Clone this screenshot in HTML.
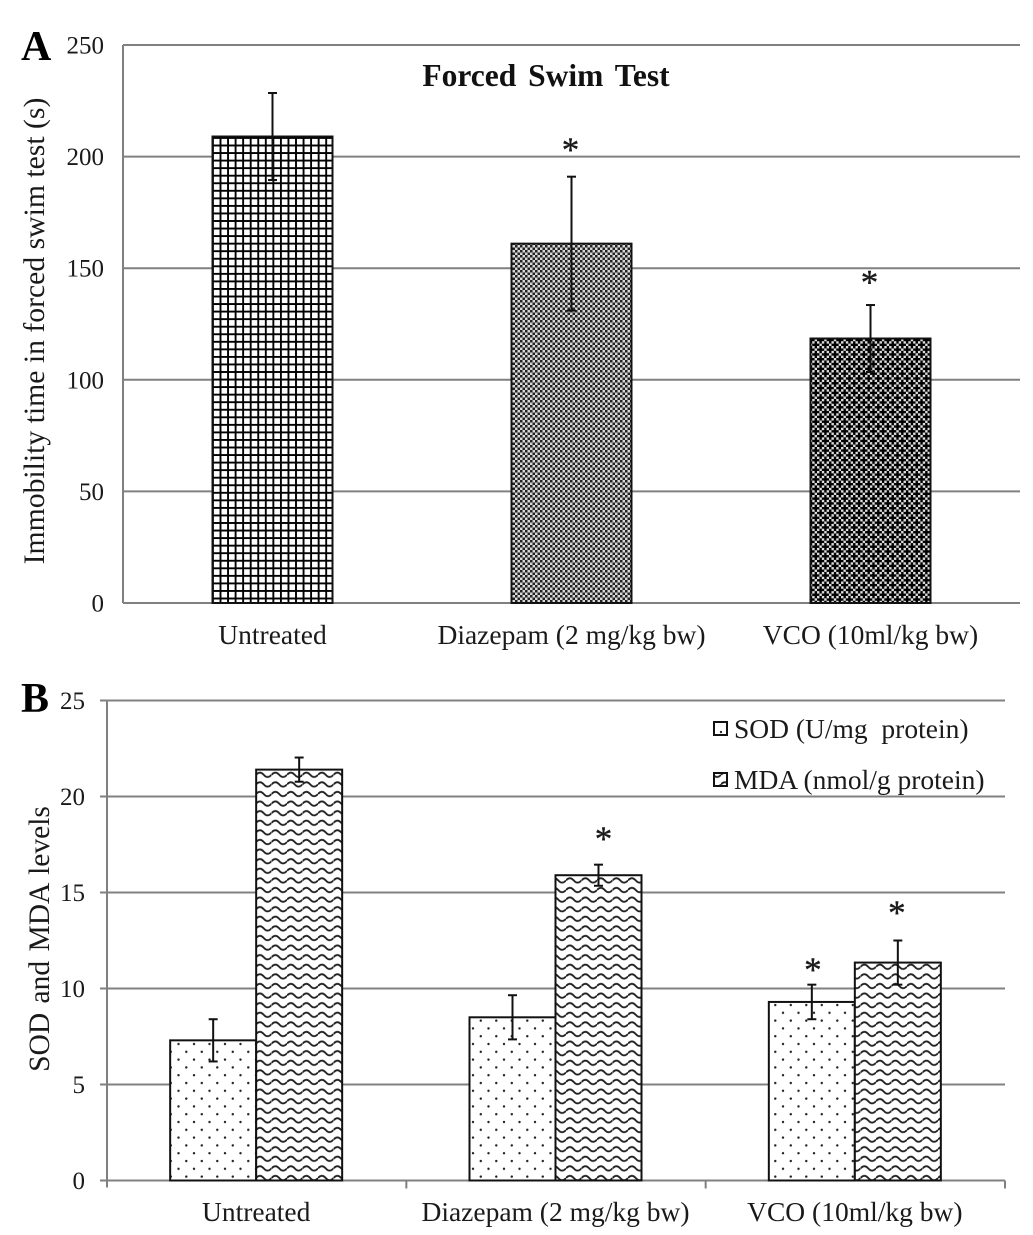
<!DOCTYPE html>
<html>
<head>
<meta charset="utf-8">
<title>Forced Swim Test and SOD/MDA levels</title>
<style>
html,body{margin:0;padding:0;background:#fff;}
svg{display:block;font-family:"Liberation Serif","Times New Roman",serif;}
text{fill:#1a1a1a;}
</style>
</head>
<body>
<svg id="figure" width="1033" height="1235" viewBox="0 0 1033 1235" xmlns="http://www.w3.org/2000/svg">
<defs>
<pattern id="p-grid" patternUnits="userSpaceOnUse" width="7.55" height="7.55" x="212" y="137">
<rect width="7.55" height="7.55" fill="#fff"/>
<rect x="0" y="0" width="1.9" height="7.55" fill="#000"/>
<rect x="0" y="0" width="7.55" height="1.9" fill="#000"/>
</pattern>
<pattern id="p-check" patternUnits="userSpaceOnUse" width="5" height="5">
<rect width="5" height="5" fill="#d8d8d8"/>
<rect width="2.5" height="2.5" fill="#222"/>
<rect x="2.5" y="2.5" width="2.5" height="2.5" fill="#222"/>
</pattern>
<pattern id="p-lattice" patternUnits="userSpaceOnUse" width="10.8" height="10.8" patternTransform="scale(0.89)">
<rect width="10.8" height="10.8" fill="#8a8a8a"/>
<rect x="0" y="0" width="2.7" height="2.7" fill="#ddd"/>
<rect x="5.4" y="0" width="2.7" height="2.7" fill="#ddd"/>
<rect x="2.7" y="2.7" width="2.7" height="2.7" fill="#ddd"/>
<rect x="8.1" y="2.7" width="2.7" height="2.7" fill="#ddd"/>
<rect x="0" y="5.4" width="2.7" height="2.7" fill="#ddd"/>
<rect x="5.4" y="5.4" width="2.7" height="2.7" fill="#ddd"/>
<rect x="2.7" y="8.1" width="2.7" height="2.7" fill="#ddd"/>
<rect x="8.1" y="8.1" width="2.7" height="2.7" fill="#ddd"/>
<rect x="2.7" y="0" width="2.7" height="8.1" fill="#000"/>
<rect x="0" y="2.7" width="8.1" height="2.7" fill="#000"/>
<rect x="8.1" y="5.4" width="2.7" height="5.4" fill="#000"/>
<rect x="8.1" y="0" width="2.7" height="2.7" fill="#000"/>
<rect x="5.4" y="8.1" width="5.4" height="2.7" fill="#000"/>
<rect x="0" y="8.1" width="2.7" height="2.7" fill="#000"/>
</pattern>
<pattern id="p-dots" patternUnits="userSpaceOnUse" width="15.5" height="15.6" x="170" y="1040">
<rect width="15.5" height="15.6" fill="#fff"/>
<circle cx="8.5" cy="4" r="1.2" fill="#222"/>
<circle cx="0.8" cy="11.8" r="1.2" fill="#222"/>
<circle cx="16.3" cy="11.8" r="1.2" fill="#222"/>
</pattern>
<pattern id="p-wave" patternUnits="userSpaceOnUse" width="15.5" height="9.6" x="256" y="770">
<rect width="15.5" height="9.6" fill="#fff"/>
<path d="M0 4.8 Q 3.875 0.4 7.75 4.8 T 15.5 4.8" fill="none" stroke="#222" stroke-width="1.9"/>
</pattern>
</defs>
</svg>
<script>
const categoriesA = ["Untreated", "Diazepam (2 mg/kg bw)", "VCO (10ml/kg bw)"];
const immobilityValues = [209, 161, 118.5];
const immobilityErrors = [19.5, 30, 15];
const immobilitySig = [false, true, true];
const ticksA = [0, 50, 100, 150, 200, 250];

const categoriesB = ["Untreated", "Diazepam (2 mg/kg bw)", "VCO (10ml/kg bw)"];
const sodValues = [7.3, 8.5, 9.3];
const sodErrors = [1.1, 1.15, 0.9];
const sodSig = [false, false, true];
const mdaValues = [21.4, 15.9, 11.35];
const mdaErrors = [0.63, 0.55, 1.15];
const mdaSig = [false, true, true];
const ticksB = [0, 5, 10, 15, 20, 25];

const NS = "http://www.w3.org/2000/svg";
const svg = document.getElementById("figure");

function mk(tag, attrs, txt) {
  const el = document.createElementNS(NS, tag);
  for (const k in attrs) el.setAttribute(k, attrs[k]);
  if (txt !== undefined) el.textContent = txt;
  svg.appendChild(el);
  return el;
}

/* axis functions, panel A */
const A = {left: 123, right: 1020, base: 603, top: 45, max: 250};
function yA(v) { return A.base - (v / A.max) * (A.base - A.top); }
function xA(i) { return A.left + (i + 0.5) * (A.right - A.left) / categoriesA.length; }

/* axis functions, panel B */
const B = {left: 107, right: 1005, base: 1180.5, top: 700.5, max: 25};
function yB(v) { return B.base - (v / B.max) * (B.base - B.top); }
function xB(i) { return B.left + (i + 0.5) * (B.right - B.left) / categoriesB.length; }

const GRID = "#808080";
const TICK_FONT = 25;
const LABEL_FONT = 27.5;

function errorBar(cx, yTop, yBottom) {
  const stem = mk("line", {x1: cx, x2: cx, y1: yTop, y2: yBottom, stroke: "#111", "stroke-width": 2});
  
  
  const capTop = mk("line", {x1: cx - 4.5, x2: cx + 4.5, y1: yTop, y2: yTop, stroke: "#111", "stroke-width": 2});
  
  
  const capBottom = mk("line", {x1: cx - 4.5, x2: cx + 4.5, y1: yBottom, y2: yBottom, stroke: "#111", "stroke-width": 2});
  
  
}

function star(cx, yTop, lift) {
  const s = mk("text", {x: cx, y: yTop - lift + 14, "text-anchor": "middle", "font-size": 35, stroke: "#1a1a1a", "stroke-width": 0.4}, "*");
  
  
}

/* ---------- Panel A ---------- */
const labelA = mk("text", {x: 21, y: 60, "font-size": 42, "font-weight": "bold", style: "fill:#000"}, "A");



ticksA.forEach(function (t) {
  const line = mk("line", {x1: A.left, x2: A.right, y1: yA(t), y2: yA(t), stroke: GRID, "stroke-width": 2});
  
  
  const lab = mk("text", {x: 104, y: yA(t) + 8.5, "text-anchor": "end", "font-size": TICK_FONT}, String(t));
  
  
});
const axisA = mk("line", {x1: A.left, x2: A.left, y1: A.top, y2: A.base, stroke: GRID, "stroke-width": 2});



const patternsA = ["p-grid", "p-check", "p-lattice"];
const liftsA = [0, 29, 25];
categoriesA.forEach(function (c, i) {
  const w = 120;
  const bar = mk("rect", {x: xA(i) - w / 2, y: yA(immobilityValues[i]), width: w, height: A.base - yA(immobilityValues[i]), fill: "url(#" + patternsA[i] + ")", stroke: "#111", "stroke-width": 2});
  
  
  errorBar(xA(i), yA(immobilityValues[i] + immobilityErrors[i]), yA(immobilityValues[i] - immobilityErrors[i]));
  if (immobilitySig[i]) star(xA(i) - 1, yA(immobilityValues[i] + immobilityErrors[i]), liftsA[i]);
  const lab = mk("text", {x: xA(i), y: 644, "text-anchor": "middle", "font-size": LABEL_FONT}, c);
  
  
});

const titleA = mk("text", {x: 546, y: 86, "text-anchor": "middle", "font-size": 31.5, "font-weight": "bold", style: "fill:#111;word-spacing:4px"}, "Forced Swim Test");



const yTitleA = mk("text", {x: 0, y: 0, transform: "translate(44,331) rotate(-90)", "text-anchor": "middle", "font-size": 29.7}, "Immobility time in forced swim test (s)");



/* ---------- Panel B ---------- */
const labelB = mk("text", {x: 21, y: 712, "font-size": 42, "font-weight": "bold", style: "fill:#000"}, "B");



ticksB.forEach(function (t) {
  const line = mk("line", {x1: B.left - 7, x2: B.right, y1: yB(t), y2: yB(t), stroke: GRID, "stroke-width": 2});
  
  
  const lab = mk("text", {x: 85, y: yB(t) + 8.5, "text-anchor": "end", "font-size": TICK_FONT}, String(t));
  
  
});
const axisB = mk("line", {x1: B.left, x2: B.left, y1: B.top, y2: B.base + 7, stroke: GRID, "stroke-width": 2});



const liftsSod = [0, 0, 17];
const liftsMda = [0, 28, 30];
const nudgeMda = [0, 5, -1];
categoriesB.forEach(function (c, i) {
  const tick = mk("line", {x1: xB(i) + (B.right - B.left) / 6, x2: xB(i) + (B.right - B.left) / 6, y1: B.base, y2: B.base + 8, stroke: GRID, "stroke-width": 2});
  
  

  const w = 86;
  const cx = xB(i) - 0.5;
  const sod = mk("rect", {x: cx - w, y: yB(sodValues[i]), width: w, height: B.base - yB(sodValues[i]), fill: "url(#p-dots)", stroke: "#111", "stroke-width": 2});
  
  
  const mda = mk("rect", {x: cx, y: yB(mdaValues[i]), width: w, height: B.base - yB(mdaValues[i]), fill: "url(#p-wave)", stroke: "#111", "stroke-width": 2});
  
  

  errorBar(cx - w / 2, yB(sodValues[i] + sodErrors[i]), yB(sodValues[i] - sodErrors[i]));
  errorBar(cx + w / 2, yB(mdaValues[i] + mdaErrors[i]), yB(mdaValues[i] - mdaErrors[i]));
  if (sodSig[i]) star(cx - w / 2 + 1, yB(sodValues[i] + sodErrors[i]), liftsSod[i]);
  if (mdaSig[i]) star(cx + w / 2 + nudgeMda[i], yB(mdaValues[i] + mdaErrors[i]), liftsMda[i]);

  const lab = mk("text", {x: cx, y: 1221, "text-anchor": "middle", "font-size": LABEL_FONT}, c);
  
  
});

const yTitleB = mk("text", {x: 0, y: 0, transform: "translate(49,939) rotate(-90)", "text-anchor": "middle", "font-size": 29.5, style: "word-spacing:2px"}, "SOD and MDA levels");



/* legend */
const swatchSod = mk("rect", {x: 714, y: 722, width: 13, height: 13, fill: "url(#p-dots)", stroke: "#111", "stroke-width": 2});


const legendSod = mk("text", {x: 734, y: 738, "font-size": LABEL_FONT, style: "white-space:pre"}, "SOD (U/mg  protein)");


const swatchMda = mk("rect", {x: 714, y: 773, width: 13, height: 13, fill: "url(#p-wave)", stroke: "#111", "stroke-width": 2});


const legendMda = mk("text", {x: 734, y: 789, "font-size": LABEL_FONT}, "MDA (nmol/g protein)");


</script>
</body>
</html>
